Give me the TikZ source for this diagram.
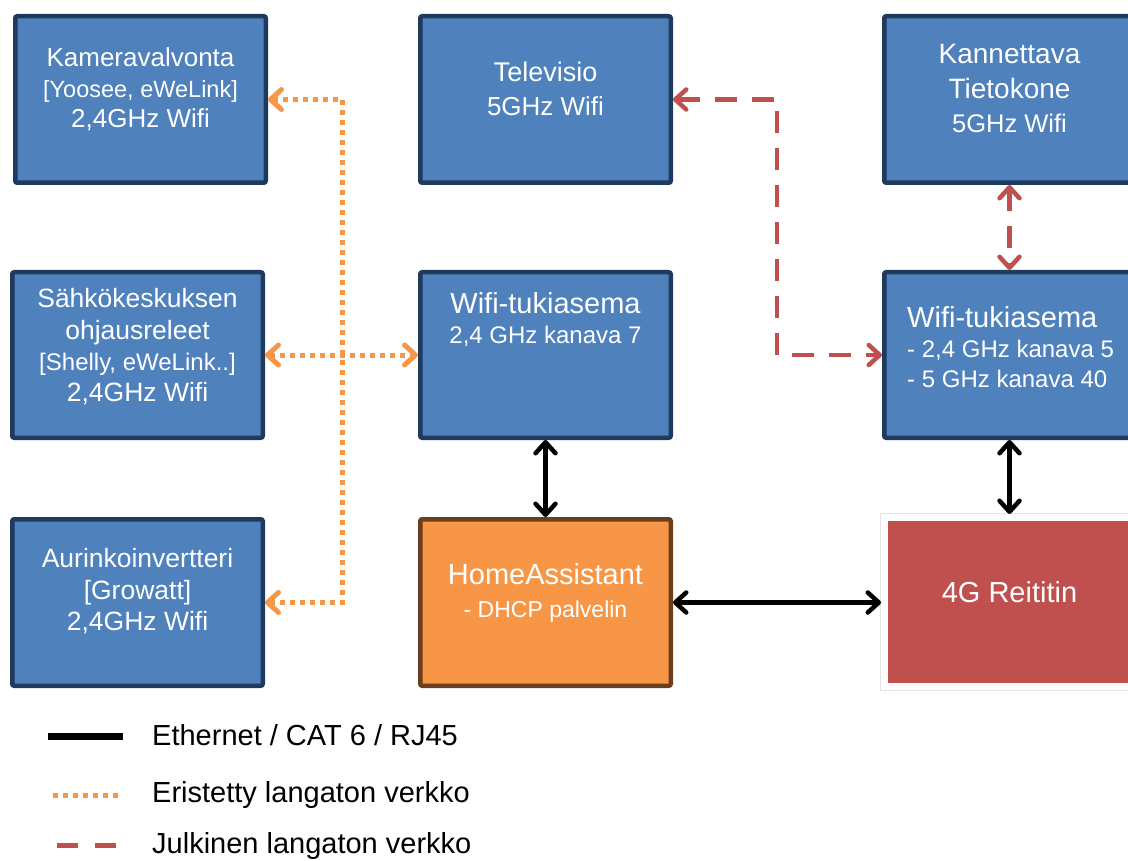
\documentclass[tikz,border=0pt]{standalone}
\usepackage{fontspec}
\setmainfont{Liberation Sans}
\usetikzlibrary{arrows.meta}
\definecolor{boxblue}{HTML}{4F81BD}
\definecolor{boxnavy}{HTML}{1F3A5C}
\definecolor{haorange}{HTML}{F79646}
\definecolor{habrown}{HTML}{6B3F1E}
\definecolor{routerred}{HTML}{C0504D}
\definecolor{lineorange}{HTML}{F79646}
\definecolor{linered}{HTML}{C0504D}
\begin{document}
\begin{tikzpicture}[x=1pt,y=-1pt,
  >={Straight Barb[round,length=11pt,width=20pt]},
  devbox/.style={draw=boxnavy, fill=boxblue, line width=4.5pt, rounded corners=2pt,
                 minimum width=250.5pt, minimum height=166.5pt, inner sep=0pt},
  txt/.style={text=white, inner sep=0pt, anchor=base, font=\fontsize{#1}{#1}\selectfont},
  txtl/.style={text=white, inner sep=0pt, anchor=base west, font=\fontsize{#1}{#1}\selectfont},
  legtxt/.style={text=black, inner sep=0pt, anchor=base west, font=\fontsize{29}{29}\selectfont},
  orangeline/.style={draw=lineorange, line width=5pt, dash pattern=on 5pt off 5pt},
  redline/.style={draw=linered, line width=4.5pt, dash pattern=on 22pt off 15pt},
  ethline/.style={draw=black, line width=4.5pt}
]
\clip (0,0) rectangle (1128,861);

% boxes
\node[devbox] (kam) at (140.5,99.5) {};
\node[devbox] (tv) at (545.5,99.5) {};
\node[devbox] (kan) at (1009.5,99.5) {};
\node[devbox, minimum height=165.5pt] (sah) at (137.5,355) {};
\node[devbox, minimum height=165.5pt] (wmid) at (545.5,355) {};
\node[devbox, minimum height=165.5pt] (wr) at (1009.5,355) {};
\node[devbox] (aur) at (137.5,602.5) {};
\node[devbox, draw=habrown, fill=haorange] (ha) at (545.5,602.5) {};
\node[draw=white, fill=routerred, line width=7pt, minimum width=259pt, minimum height=169pt,
      inner sep=0pt, preaction={draw=black!10, line width=9pt}] (rt) at (1014,602) {};

% texts
\node[txt=26] (kam1) at (140.5,67) {Kameravalvonta};
\node[txt=23.5] (kam2) at (140.5,97.5) {[Yoosee, eWeLink]};
\node[txt=26] (kam3) at (140.5,128) {2,4GHz Wifi};

\node[txt=27] (tv1) at (545.5,82) {Televisio};
\node[txt=26] (tv2) at (545.5,116) {5GHz Wifi};

\node[txt=28] (kan1) at (1009.5,63.5) {Kannettava};
\node[txt=28] (kan2) at (1009.5,98.5) {Tietokone};
\node[txt=25.5] (kan3) at (1009.5,132.5) {5GHz Wifi};

\node[txt=26.5] (sah1) at (137.5,308) {Sähkökeskuksen};
\node[txt=26.5] (sah2) at (137.5,340) {ohjausreleet};
\node[txt=24] (sah3) at (137.5,370.5) {[Shelly, eWeLink..]};
\node[txt=26.5] (sah4) at (137.5,401) {2,4GHz Wifi};

\node[txt=29] (wm1) at (545.5,313) {Wifi-tukiasema};
\node[txt=24] (wm2) at (545.5,343.5) {2,4 GHz kanava 7};

\node[txtl=29] (wr1) at (907,327) {Wifi-tukiasema};
\node[txtl=24] (wr2) at (907,357) {- 2,4 GHz kanava 5};
\node[txtl=24] (wr3) at (907,387) {- 5 GHz kanava 40};

\node[txt=26.5] (aur1) at (137.5,567.5) {Aurinkoinvertteri};
\node[txt=26.5] (aur2) at (137.5,599) {[Growatt]};
\node[txt=26.5] (aur3) at (137.5,630.5) {2,4GHz Wifi};

\node[txt=29] (ha1) at (545.5,584.5) {HomeAssistant};
\node[txt=23] (ha2) at (545.5,617.5) {- DHCP palvelin};

\node[txt=29] (rt1) at (1009.5,602.5) {4G Reititin};

% orange isolated network
\coordinate (jn) at (342,355);
\draw[orangeline,<->] (sah.east) -- (wmid.west);
\draw[orangeline,<-] (kam.east) -| (jn);
\draw[orangeline,<-] (aur.east) -| (jn);

% red public network
\coordinate (rbend) at (777,99.5);
\draw[redline,<->] (tv.east) -- (rbend) |- (wr.west);
\draw[redline,<->] (kan.south) -- (wr.north);

% ethernet
\draw[ethline,<->] (wmid.south) -- (ha.north);
\draw[ethline,<->] (wr.south) -- (wr.south |- rt.north);
\draw[ethline,<->] (ha.east) -- (ha.east -| rt.west);

% legend
\coordinate (l1a) at (48,736);
\coordinate (l1b) at (123,736);
\coordinate (l2a) at (53,795);
\coordinate (l2b) at (118,795);
\coordinate (l3a) at (57,845);
\coordinate (l3b) at (116,845);
\draw[draw=black, line width=7pt] (l1a) -- (l1b);
\draw[draw=lineorange, line width=5pt, dash pattern=on 5pt off 5pt] (l2a) -- (l2b);
\draw[draw=linered, line width=5pt, dash pattern=on 21pt off 17pt] (l3a) -- (l3b);
\node[legtxt] (leg1) at (152,745) {Ethernet / CAT 6 / RJ45};
\node[legtxt] (leg2) at (152,802) {Eristetty langaton verkko};
\node[legtxt] (leg3) at (152,853.5) {Julkinen langaton verkko};
\end{tikzpicture}
\end{document}
